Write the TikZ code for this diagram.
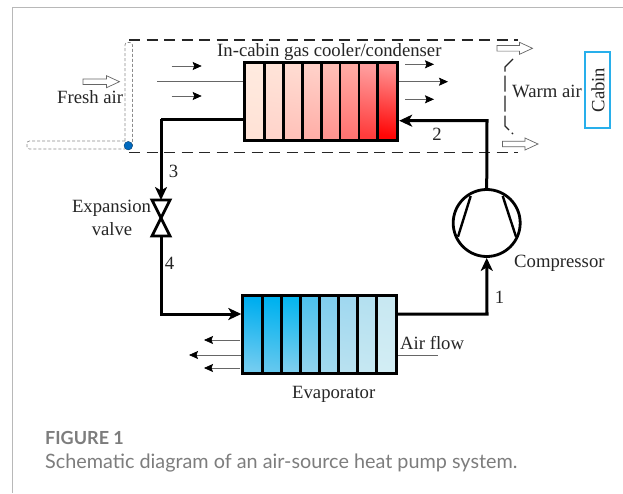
\documentclass[tikz,border=0pt]{standalone}
\usepackage{fontspec}
\setmainfont{Liberation Serif}
\newfontfamily\capfont{Lato}
\usetikzlibrary{arrows.meta,shapes.geometric}
\definecolor{capgray}{RGB}{125,125,125}
\definecolor{cabinblue}{RGB}{40,175,235}
\definecolor{dotblue}{RGB}{0,105,190}
\tikzset{
  x=1pt,y=-1pt,
  pipe/.style={line width=3pt,draw=black},
  flowtip/.style={-{Stealth[length=13pt,width=12pt,inset=3.5pt]}},
  frame/.style={line width=1.3pt,dash pattern=on 11pt off 6.5pt,draw=black!85},
  duct/.style={line width=.7pt,draw=black!45,dash pattern=on 3pt off 2pt,rounded corners=2.5pt},
  airline/.style={line width=.7pt,draw=black!60},
  airarrow/.style={airline,-{Stealth[length=9pt,width=8pt,inset=1.5pt,black]}},
  hollow/.style={line width=.7pt,draw=black!60,fill=white},
  lab/.style={inner sep=0pt,font=\fontsize{18.7}{20}\selectfont,text=black!85},
  hx/.style={draw=black,line width=2.8pt,inner sep=0pt,fill=none},
}
\newcommand{\hollowarrow}[3]{%
  \draw[hollow] (#1,#3-2.8) -- (#2-13,#3-2.8) -- (#2-13,#3-6) -- (#2,#3) -- (#2-13,#3+6) -- (#2-13,#3+2.8) -- (#1,#3+2.8) -- cycle;}
\begin{document}
\begin{tikzpicture}
\useasboundingbox (0,0) rectangle (623,493);
\fill[white] (0,0) rectangle (623,493);
\draw[line width=1pt,black!28] (623,7.5) -- (12.5,7.5) -- (12.5,493);
% dashed frame
\draw[frame] (129,40) -- (518,40);
\draw[frame] (129,152.7) -- (518,152.7);
% duct
\draw[duct] (125,141) -- (125,42.5) -- (132.5,42.5) -- (132.5,146);
\draw[duct] (125,141) -- (27,141) -- (27,149) -- (125,149);
\node[circle,fill=dotblue,draw=black!50!dotblue,line width=.3pt,minimum size=8.6pt,inner sep=0pt] (dot) at (128.3,145.7) {};
% hollow arrows
\hollowarrow{83}{119.5}{81.7}
\hollowarrow{497}{532.5}{48.3}
\hollowarrow{502.5}{538}{144}
% condenser cells
\foreach \i/\a/\b in {0/FFEADF/FFE2D6,1/FFE3D8/FFD4CB,2/FFDBD1/FFC2BA,3/FFD0C8/FFAFA8,4/FFBDB5/FF9490,5/FFAAA3/FF7472,6/FF9C9C/FF3C3C,7/FF9090/FF0606}{
  \definecolor{ca}{HTML}{\a}\definecolor{cb}{HTML}{\b}
  \shade[top color=ca,bottom color=cb,shading angle=-10] ({245.5+\i*18.9},63.5) rectangle ++(18.9,76);
}
\node[hx,minimum width=153pt,minimum height=78pt] (cond) at (321.3,101.5) {};
\foreach \i in {1,...,7} \draw[line width=2.8pt] ({245.5+\i*18.9},63.5) -- ++(0,76);
% evaporator cells
\foreach \i/\a/\b in {0/00AEEF/72CCF0,1/00B2EF/62C7EE,2/08B6EF/7CCEEE,3/4FC2EE/90D3EE,4/80CEEE/A2D9EE,5/A0D8F0/B8E1F0,6/B4E0F0/C5E7F2,7/C8E8F2/D2EDF4}{
  \definecolor{ca}{HTML}{\a}\definecolor{cb}{HTML}{\b}
  \shade[top color=ca,bottom color=cb,shading angle=-10] ({243.5+\i*19},296) rectangle ++(19,76.5);
}
\node[hx,minimum width=154pt,minimum height=78pt] (evap) at (319.7,334.2) {};
\foreach \i in {1,...,7} \draw[line width=2.8pt] ({243.5+\i*19},296) -- ++(0,76.5);
% compressor
\node[circle,draw=black,line width=2.8pt,minimum size=67pt,inner sep=0pt] (comp) at (486.7,223) {};
\draw[line width=2.4pt] (470.7,196) -- (458,236.7);
\draw[line width=2.4pt] (502.7,196) -- (516,236.7);
% valve
\coordinate (vt) at (161,200);
\coordinate (vc) at (161,218);
\coordinate (vb) at (161,236);
\draw[line width=2.8pt,line join=miter] (vc) -- (152,200) -- (170,200) -- cycle;
\draw[line width=2.8pt,line join=miter] (vc) -- (152,236) -- (170,236) -- cycle;
% pipe corners
\coordinate (ca) at (161,119.3);
\coordinate (cb) at (161,314);
\coordinate (cc) at (487,314);
\coordinate (cd) at (487,120.7);
\draw[pipe] (cond.west |- ca) -- (ca);
\draw[pipe,flowtip] (ca) -- (vt);
\draw[pipe,flowtip] (vb) -- (cb) -- (evap.west |- cb);
\draw[pipe,flowtip] (evap.east |- cc) -- (cc) -- (comp.south);
\draw[pipe,flowtip] (comp.north) -- (cd) -- (cond.east |- cd);
% air flow lines
\coordinate (ya) at (0,81.7);
\coordinate (yb) at (0,355);
\draw[airarrow] (171.7,66) -- (201.7,66);
\draw[airline] (157.3,81.7) -- (cond.west |- ya);
\draw[airarrow] (171.7,96) -- (201.7,96);
\draw[airarrow] (405,64.3) -- (434,64.3);
\draw[airarrow] (cond.east |- ya) -- (448,81.7);
\draw[airarrow] (405,99.3) -- (434,99.3);
\draw[airarrow] (240,340) -- (204,340);
\draw[airarrow] (evap.west |- yb) -- (189,355);
\draw[airarrow] (240,368) -- (204,368);
\draw[airline] (evap.east |- yb) -- (438,355);
% warm air bracket
\draw[line width=1.2pt,draw=black!85,dash pattern=on 16pt off 4pt] (513,59) -- (505,67) -- (505,126) -- (513,134);
% cabin
\node[draw=cabinblue,line width=1.2pt,minimum width=25pt,minimum height=76pt,inner sep=0pt] (cabin) at (597.5,90) {};
\node[lab,rotate=90] (cabintxt) at (598,90) {Cabin};
% labels
\node[lab,anchor=base west] (t1) at (217,56) {In-cabin gas cooler/condenser};
\node[lab,anchor=base west] (t2) at (57,103.5) {Fresh air};
\node[lab,anchor=base west] (t3) at (512,97.5) {Warm air};
\node[lab,anchor=base] (t4) at (111.5,212) {Expansion};
\node[lab,anchor=base] (t5) at (112,235) {valve};
\node[lab,anchor=base] (n3) at (173.5,177) {3};
\node[lab,anchor=base] (n4) at (169.5,269) {4};
\node[lab,anchor=base] (n2) at (437,140) {2};
\node[lab,anchor=base] (n1) at (499.5,303) {1};
\node[lab,anchor=base west] (t6) at (514,267) {Compressor};
\node[lab,anchor=base west] (t7) at (400,349) {Air flow};
\node[lab,anchor=base west] (t8) at (292,398) {Evaporator};
% caption
\node[inner sep=0pt,anchor=base west,text=capgray,font=\capfont\bfseries\fontsize{18}{20}\selectfont] (cap1) at (45,444) {FIGURE 1};
\node[inner sep=0pt,anchor=base west,text=capgray,font=\capfont\fontsize{19.8}{22}\selectfont] (cap2) at (45,468) {Schematic diagram of an air-source heat pump system.};
\end{tikzpicture}
\end{document}
